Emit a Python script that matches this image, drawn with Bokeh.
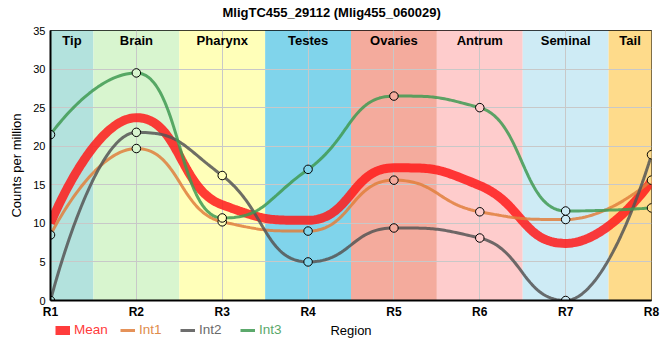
import numpy as np
from bokeh.plotting import figure
from bokeh.layouts import column
from bokeh.models import Range1d, Legend, LegendItem, FixedTicker, ColumnDataSource
from bokeh.core.properties import value
from bokeh.embed import file_html
from bokeh.resources import INLINE

# ---- data ----
regions = ["R1", "R2", "R3", "R4", "R5", "R6", "R7", "R8"]
tissues = ["Tip", "Brain", "Pharynx", "Testes", "Ovaries", "Antrum", "Seminal", "Tail"]
tissue_colors = ["#b3e2dd", "#d8f5cf", "#ffffb9", "#80d4eb", "#f4ab9d", "#fecccc", "#ceebf5", "#fedb8b"]
mean_vals = [10.0, 23.7, 12.4, 10.4, 17.2, 14.9, 7.4, 15.5]
int1 = [8.5, 19.7, 10.2, 9.0, 15.6, 11.5, 10.5, 15.6]
int2 = [0.0, 21.8, 16.2, 5.0, 9.4, 8.1, 0.0, 18.9]
int3 = [21.5, 29.5, 10.7, 17.0, 26.5, 25.0, 11.6, 12.0]
y_ticks = [0, 5, 10, 15, 20, 25, 30, 35]
title_text = "MligTC455_29112 (Mlig455_060029)"
x_title = "Region"
y_title = "Counts per million"

FONT = "Liberation Sans"
W, H_MAIN, H_LEG = 660, 322, 36
B_LEFT, B_RIGHT, B_TOP, B_BOTTOM = 50, 9, 30, 22
x_pos = list(range(1, len(regions) + 1))
x_min, x_max = x_pos[0], x_pos[-1]
y_min, y_max = y_ticks[0], y_ticks[-1]
PX_X = (W - B_LEFT - B_RIGHT) / (x_max - x_min)
PX_Y = (H_MAIN - B_TOP - B_BOTTOM) / (y_max - y_min)


def spline_path(xs, ys, smoothing=1.0, steps=40):
    """Highcharts-style spline (control points kept between neighbours), in pixel space."""
    P = np.column_stack([np.asarray(xs, float) * PX_X, np.asarray(ys, float) * PX_Y])
    n = len(P)
    left = [P[i].copy() for i in range(n)]
    right = [P[i].copy() for i in range(n)]
    d = smoothing + 1
    for i in range(1, n - 1):
        lx, ly = P[i - 1]
        px_, py = P[i]
        nx, ny = P[i + 1]
        lcx = (smoothing * px_ + lx) / d
        lcy = (smoothing * py + ly) / d
        rcx = (smoothing * px_ + nx) / d
        rcy = (smoothing * py + ny) / d
        corr = 0.0
        if rcx != lcx:
            corr = ((rcy - lcy) * (rcx - px_)) / (rcx - lcx) + py - rcy
        lcy += corr
        rcy += corr
        if lcy > ly and lcy > py:
            lcy = max(ly, py); rcy = 2 * py - lcy
        elif lcy < ly and lcy < py:
            lcy = min(ly, py); rcy = 2 * py - lcy
        if rcy > ny and rcy > py:
            rcy = max(ny, py); lcy = 2 * py - rcy
        elif rcy < ny and rcy < py:
            rcy = min(ny, py); lcy = 2 * py - rcy
        left[i] = np.array([lcx, lcy])
        right[i] = np.array([rcx, rcy])
    u = np.linspace(0, 1, steps)[:, None]
    segs = []
    for i in range(n - 1):
        p0, p1, p2, p3 = P[i], right[i], left[i + 1], P[i + 1]
        segs.append((1 - u) ** 3 * p0 + 3 * u * (1 - u) ** 2 * p1
                    + 3 * u ** 2 * (1 - u) * p2 + u ** 3 * p3)
    pts = np.vstack(segs)
    return (pts[:, 0] / PX_X).tolist(), (pts[:, 1] / PX_Y).tolist()


p = figure(width=W, height=H_MAIN, output_backend="svg", toolbar_location=None,
           x_range=Range1d(x_min, x_max), y_range=Range1d(y_min, y_max),
           min_border_left=B_LEFT, min_border_right=B_RIGHT, min_border_top=B_TOP,
           min_border_bottom=B_BOTTOM,
           background_fill_color="white", border_fill_color="white")

p.title.text = title_text + "\n "
p.title.align = "left"
p.title.offset = 172
p.title.standoff = 0
p.title.text_line_height = 0.72
p.title.text_font = FONT
p.title.text_font_size = "13px"
p.title.text_font_style = "bold"
p.title.text_color = "black"

p.outline_line_color = "black"
p.outline_line_width = 1
p.outline_line_alpha = 1

# bands
band_src = ColumnDataSource(dict(
    left=[x - 0.5 for x in x_pos], right=[x + 0.5 for x in x_pos],
    bottom=[y_min] * len(x_pos), top=[y_max] * len(x_pos), color=tissue_colors))
p.quad(left="left", right="right", bottom="bottom", top="top", fill_color="color",
       line_color=None, source=band_src, level="image")

# band labels (centred in the visible part of each band)
label_x = [(max(x - 0.5, x_min) + min(x + 0.5, x_max)) / 2 for x in x_pos]
p.text(x=label_x, y=[y_max] * len(x_pos), text=tissues, text_align="center",
       text_baseline="middle", y_offset=10, text_font=value(FONT),
       text_font_style="bold", text_font_size="13px", text_color="black")

# series
series = [
    ("Mean", mean_vals, "#ff1a1a", 9, 0.85, "#ff3b3b"),
    ("Int1", int1, "#e07f3c", 3, 0.85, "#e08c4c"),
    ("Int2", int2, "#555555", 3, 0.85, "#6a6a6a"),
    ("Int3", int3, "#3f9a52", 3, 0.85, "#5aa86a"),
]
for name, vals, col, lw, alpha, tcol in series:
    sx, sy = spline_path(x_pos, vals)
    p.line(sx, sy, line_color=col, line_width=lw, line_alpha=alpha)

for name, vals, col, lw, alpha, tcol in series[1:]:
    p.scatter(x_pos, vals, size=8.5, marker="circle", fill_color=tissue_colors,
              line_color="black", line_width=1)

# axes
p.xaxis.ticker = FixedTicker(ticks=x_pos)
p.xaxis.major_label_overrides = {x: r for x, r in zip(x_pos, regions)}
p.yaxis.ticker = FixedTicker(ticks=y_ticks)
p.xgrid.ticker = FixedTicker(ticks=x_pos)
p.ygrid.ticker = FixedTicker(ticks=y_ticks)
for g in (p.xgrid, p.ygrid):
    g.grid_line_color = "#c8c8c8"
    g.grid_line_width = 1

for ax in (p.xaxis, p.yaxis):
    ax.axis_line_color = "black"
    ax.axis_line_width = 2
    ax.major_tick_line_color = None
    ax.minor_tick_line_color = None
    ax.major_tick_out = 0
    ax.major_tick_in = 0
    ax.minor_tick_out = 0
    ax.major_label_text_color = "black"
    ax.major_label_text_font = FONT
    ax.axis_label_text_font = FONT
    ax.axis_label_text_font_style = "normal"
    ax.axis_label_text_font_size = "13px"
    ax.axis_label_text_color = "black"

p.xaxis.major_label_text_font_size = "12px"
p.xaxis.major_label_text_font_style = "bold"
p.xaxis.major_label_standoff = 4
p.xaxis.axis_label_standoff = 0

p.yaxis.axis_label = y_title
p.yaxis.major_label_text_font_size = "11px"
p.yaxis.major_label_standoff = 5
p.yaxis.axis_label_standoff = 6

# ---- legend strip (one legend per item, each in its series colour) ----
q = figure(width=W, height=H_LEG, output_backend="svg", toolbar_location=None,
           x_range=Range1d(B_LEFT, W - B_RIGHT), y_range=Range1d(0, H_LEG),
           x_axis_type=None, y_axis_type=None,
           min_border_left=B_LEFT, min_border_right=B_RIGHT, min_border_top=0, min_border_bottom=0,
           background_fill_color="white", border_fill_color="white")
q.outline_line_color = None
q.grid.visible = False
ROW_Y = H_LEG - 8  # vertical centre of legend row, from bottom
legend_page_x = [55, 120, 180, 240]
nan = float("nan")
for (name, vals, col, lw, alpha, tcol), lx in zip(series, legend_page_x):
    r = q.line(x=[nan, nan], y=[nan, nan], line_color=col, line_width=lw, line_alpha=alpha)
    lg = Legend(items=[LegendItem(label=name, renderers=[r])],
                location=(lx - B_LEFT, ROW_Y - 7),
                orientation="horizontal", padding=0, margin=0, spacing=0,
                border_line_color=None, background_fill_alpha=0,
                label_text_color=tcol, label_text_font=FONT, label_text_font_size="13.5px",
                glyph_width=15, glyph_height=14, label_height=14, label_standoff=4)
    q.add_layout(lg)
q.text(x=[B_LEFT + (W - B_LEFT - B_RIGHT) / 2], y=[ROW_Y], text=[x_title],
       text_align="center", text_baseline="middle", text_font=value(FONT),
       text_font_size="13px", text_color="black")

layout = column(p, q, spacing=0)
open("out.html", "w").write(file_html(layout, INLINE))
